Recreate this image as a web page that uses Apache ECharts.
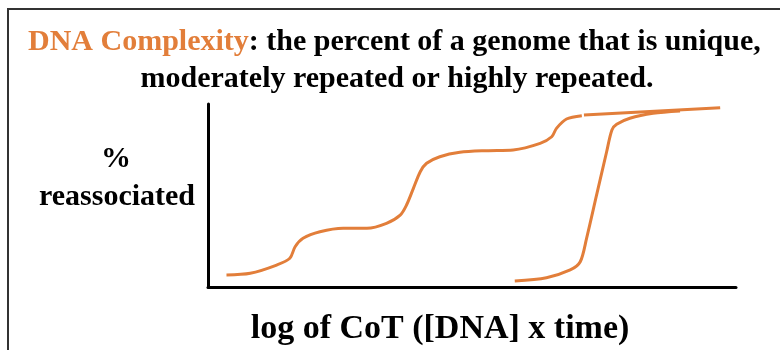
<!DOCTYPE html>
<html>
<head>
<meta charset="utf-8">
<script src="https://cdn.jsdelivr.net/npm/echarts@6/dist/echarts.min.js"></script>
<style>
  html, body { margin: 0; padding: 0; background: #fff; }
  #chart { width: 780px; height: 350px; }
</style>
</head>
<body>
<div id="chart"></div>
<script>
// Reassociation (Cot) curves: x = log CoT (relative units 0-100), y = % reassociated
const genomeCurve = [
  [3.5, 6.6], [8.0, 7.5], [13.0, 12.0], [15.5, 15.7], [16.5, 22.0], [18.0, 26.6],
  [21.2, 30.2], [25.6, 32.1], [30.1, 32.1], [33.8, 34.8], [36.4, 39.3], [37.6, 44.8],
  [38.9, 53.9], [40.2, 63.0], [41.4, 67.6], [43.9, 71.2], [47.7, 73.6], [52.8, 74.5],
  [57.8, 74.9], [62.9, 78.5], [65.1, 82.1], [66.0, 86.7], [67.9, 91.8], [70.8, 93.6]
];
const genomePlateau = [[71.2, 94.0], [97.0, 98.0]];
const uniqueCurve = [
  [58.1, 3.3], [64.1, 5.1], [68.6, 9.3], [70.5, 13.8], [71.7, 26.6], [73.6, 50.3],
  [75.5, 73.9], [76.5, 85.8], [77.4, 88.9], [79.9, 92.2], [84.3, 94.9], [89.4, 96.2]
];

const orange = '#E27E3A';
const serif = '"Liberation Serif", "DejaVu Serif", serif';

const chart = echarts.init(document.getElementById('chart'));

function curve(data) {
  return {
    type: 'line', data: data, smooth: 0.3,
    showSymbol: false, silent: true,
    lineStyle: { color: orange, width: 3 }
  };
}

chart.setOption({
  animation: false,
  backgroundColor: '#fff',
  grid: { left: 208, top: 104, width: 528, height: 183 },
  xAxis: {
    type: 'value', min: 0, max: 100,
    axisLine: { show: true, onZero: false, lineStyle: { color: '#000', width: 3 } },
    axisTick: { show: false }, axisLabel: { show: false }, splitLine: { show: false }
  },
  yAxis: {
    type: 'value', min: 0, max: 100,
    axisLine: { show: true, onZero: false, lineStyle: { color: '#000', width: 3 } },
    axisTick: { show: false }, axisLabel: { show: false }, splitLine: { show: false }
  },
  series: [curve(genomeCurve), curve(genomePlateau), curve(uniqueCurve)],
  graphic: [
    { type: 'rect', silent: true, shape: { x: 8, y: 9, width: 790, height: 360 },
      style: { fill: 'none', stroke: '#333', lineWidth: 2 } },
    { type: 'text', left: 28, top: 27, silent: true,
      style: {
        text: '{o|DNA Complexity}{b|: the percent of a genome that is unique,}',
        rich: {
          o: { fill: orange, font: 'bold 30px ' + serif },
          b: { fill: '#000', font: 'bold 30px ' + serif }
        }
      } },
    { type: 'text', silent: true, x: 397, y: 79,
      style: { text: 'moderately repeated or highly repeated.', fill: '#000',
        font: 'bold 30px ' + serif, align: 'center', verticalAlign: 'middle' } },
    { type: 'text', silent: true, x: 116, y: 159,
      style: { text: '%', fill: '#000', font: 'bold 30px ' + serif,
        align: 'center', verticalAlign: 'middle' } },
    { type: 'text', silent: true, x: 117, y: 197,
      style: { text: 'reassociated', fill: '#000', font: 'bold 30px ' + serif,
        align: 'center', verticalAlign: 'middle' } },
    { type: 'text', silent: true, x: 440, y: 329,
      style: { text: 'log of CoT ([DNA] x time)', fill: '#000', font: 'bold 34px ' + serif,
        align: 'center', verticalAlign: 'middle' } }
  ]
});
</script>
</body>
</html>
